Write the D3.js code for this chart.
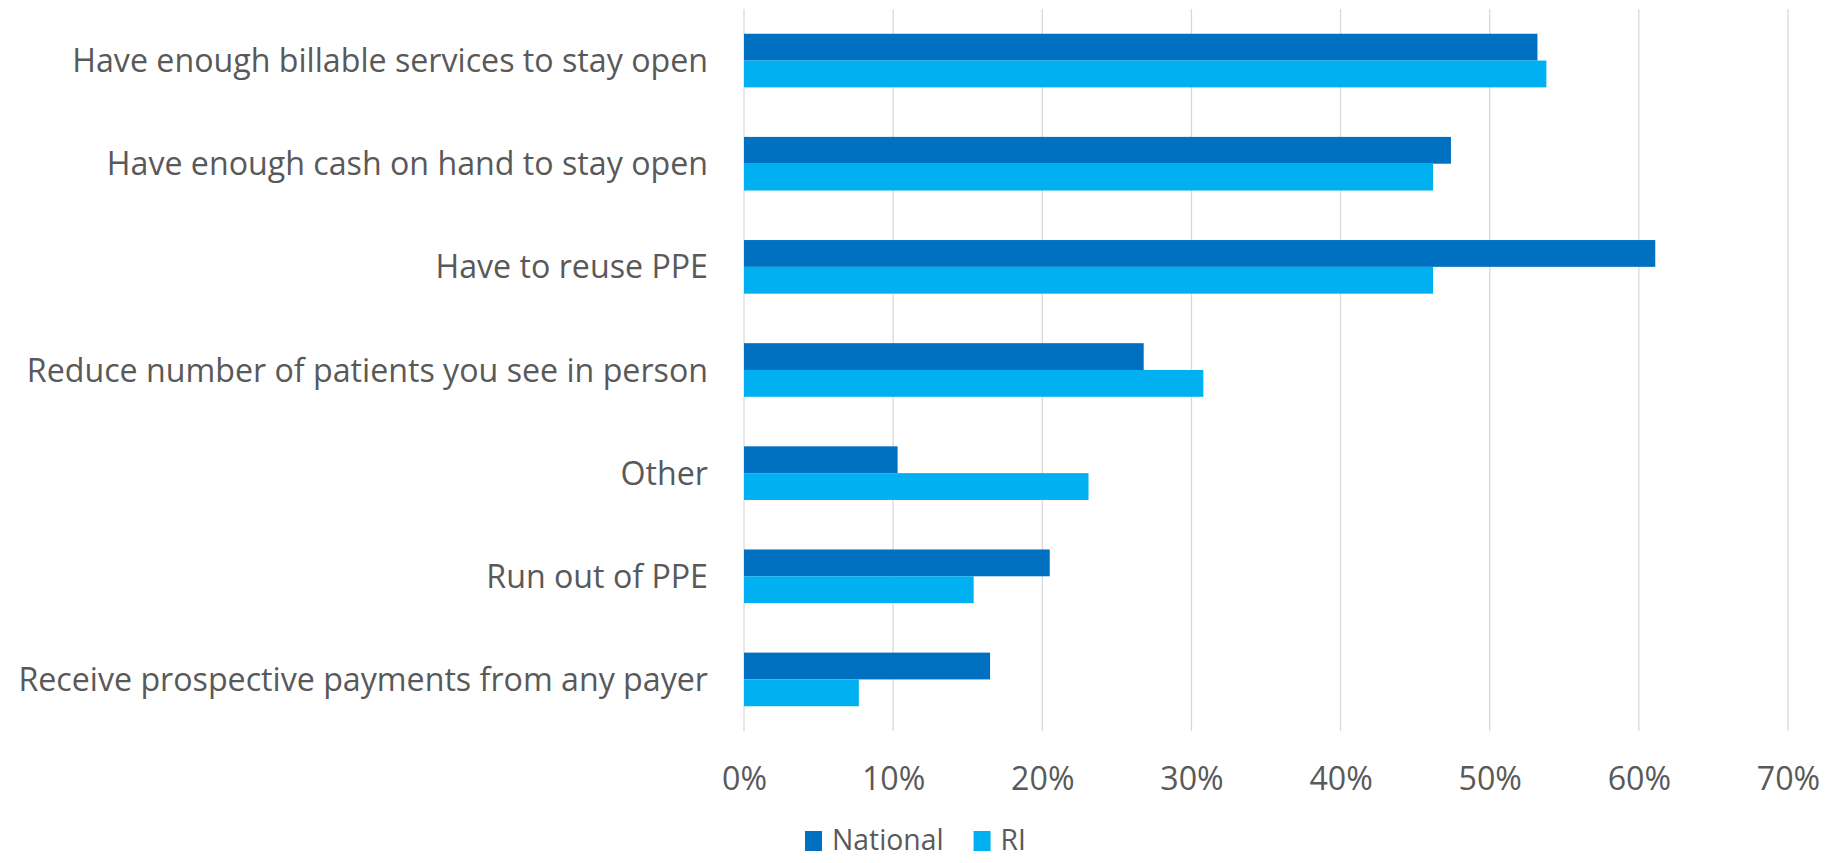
<!DOCTYPE html>
<html>
<head>
<meta charset="utf-8">
<script src="https://cdn.jsdelivr.net/npm/d3@7"></script>
<style>
  html, body { margin: 0; padding: 0; background: #fff; }
  svg { display: block; }
</style>
</head>
<body>
<div id="chart"></div>
<script>
const categories = [
    "Have enough billable services to stay open",
    "Have enough cash on hand to stay open",
    "Have to reuse PPE",
    "Reduce number of patients you see in person",
    "Other",
    "Run out of PPE",
    "Receive prospective payments from any payer"
];
const seriesNames = ["National", "RI"];
const national = [53.2, 47.4, 61.1, 26.8, 10.3, 20.5, 16.5];
const ri = [53.8, 46.2, 46.2, 30.8, 23.1, 15.4, 7.7];
const xTicks = [0, 10, 20, 30, 40, 50, 60, 70];
const colors = ["#0070C0", "#00B0F0"];

const width = 1841, height = 863;
const margin = {top: 9, right: 53, bottom: 132, left: 744};
const font = "'Open Sans', sans-serif";
const textColor = "#595959";

svg = d3.select("#chart")
    .append("svg")
    .attr("width", width)
    .attr("height", height);

x = d3.scaleLinear()
    .domain([0, 70])
    .range([margin.left, width - margin.right]);

y = d3.scaleBand()
    .domain(categories)
    .range([margin.top, height - margin.bottom])
    .paddingInner(0.48)
    .paddingOuter(0.24);

y1 = d3.scaleBand()
    .domain(seriesNames)
    .range([0, y.bandwidth()]);

// pick a font size so the longest label spans roughly what it does in the original
let probe = svg.append("text")
    .attr("font-family", font)
    .attr("font-size", 30)
    .text(categories[6]);
let fs = 30 * 690 / probe.node().getComputedTextLength();
probe.remove();

// gridlines
svg.append("g")
    .selectAll("line")
    .data(xTicks)
    .join("line")
    .attr("x1", d => x(d))
    .attr("x2", d => x(d))
    .attr("y1", margin.top)
    .attr("y2", height - margin.bottom)
    .attr("stroke", "#d9d9d9")
    .attr("stroke-width", 1.3);

// bars
let rows = categories.map((c, i) => ({cat: c, vals: [national[i], ri[i]]}));

svg.append("g")
    .selectAll("g")
    .data(rows)
    .join("g")
    .attr("transform", d => `translate(0,${y(d.cat)})`)
    .selectAll("rect")
    .data(d => d.vals.map((v, j) => ({key: seriesNames[j], v: v, j: j})))
    .join("rect")
    .attr("x", x(0))
    .attr("y", d => y1(d.key))
    .attr("width", d => x(d.v) - x(0))
    .attr("height", y1.bandwidth())
    .attr("fill", d => colors[d.j]);

// category labels
svg.append("g")
    .selectAll("text")
    .data(categories)
    .join("text")
    .attr("x", x(0) - 36)
    .attr("y", d => y(d) + y.bandwidth() / 2)
    .attr("dy", "0.36em")
    .attr("text-anchor", "end")
    .attr("font-family", font)
    .attr("font-size", fs)
    .attr("fill", textColor)
    .text(d => d);

// x axis
xAxis = d3.axisBottom(x)
    .tickValues(xTicks)
    .tickSize(0)
    .tickPadding(0)
    .tickFormat(d => d + "%");

gx = svg.append("g")
    .attr("transform", `translate(0,${height - margin.bottom})`)
    .call(xAxis);
gx.select(".domain").remove();
gx.selectAll("text")
    .attr("y", 59)
    .attr("dy", 0)
    .attr("font-family", font)
    .attr("font-size", fs)
    .attr("fill", textColor);

// legend
legend = svg.append("g")
    .attr("transform", "translate(805, 840)");

let lx = 0;
seriesNames.forEach((name, i) => {
    legend.append("rect")
        .attr("x", lx)
        .attr("y", -9)
        .attr("width", 17)
        .attr("height", 20)
        .attr("fill", colors[i]);
    let t = legend.append("text")
        .attr("x", lx + 27)
        .attr("y", 0)
        .attr("dy", "0.36em")
        .attr("font-family", font)
        .attr("font-size", fs * 0.88)
        .attr("fill", textColor)
        .text(name);
    lx += 27 + t.node().getComputedTextLength() + 30;
});
</script>
</body>
</html>
